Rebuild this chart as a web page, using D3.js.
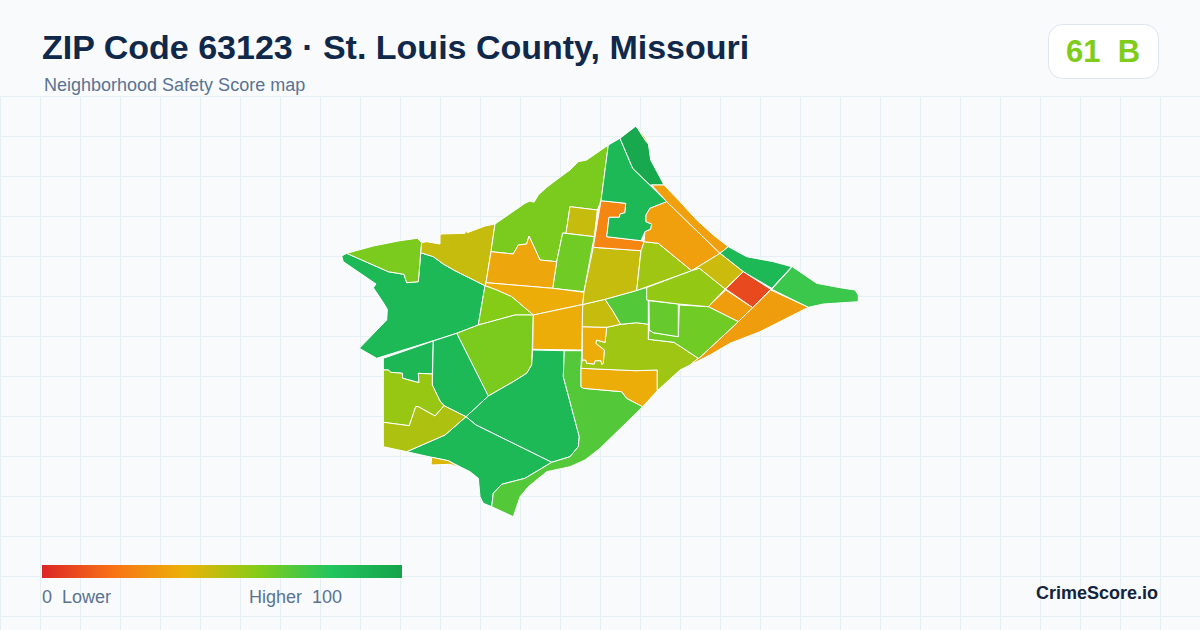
<!DOCTYPE html>
<html><head><meta charset="utf-8">
<script src="https://cdnjs.cloudflare.com/ajax/libs/d3/7.8.5/d3.min.js"></script>
<style>html,body{margin:0;padding:0;background:#f8fafc}svg{display:block}text{font-family:"Liberation Sans",Arial,sans-serif;white-space:pre}</style>
</head><body><svg id="c" width="1200" height="630"></svg>
<script>
const title="ZIP Code 63123 · St. Louis County, Missouri";
const subtitle="Neighborhood Safety Score map";
const overallScore=61, overallGrade="B";
const brand="CrimeScore.io";
const legendLow="0  Lower", legendHigh="Higher  100";
const colorStops=[0,20,40,60,80,100];
const colorValues=["#dc2626","#f97316","#eab308","#84cc16","#22c55e","#16a34a"];
// neighbourhood scores and outlines (map units)
const regionScores=[87,62,47,62,47,64,36,38,60,62,87,87,70,38,55,38,47,70,47,55,26,87,34,97,41,34,87,46,9,75,33,33,64,66,57,88,87,56,52,43,38];
const regionRings=[
[[341.7,256],[346.7,253.3],[388.3,271.7],[404,274.3],[406.7,282.7],[418.3,281.7],[420.7,252.7],[433.3,256.7],[443.3,264],[455,270.7],[468.3,277.3],[485,285.7],[478.3,325],[456.7,333.3],[433.3,340.7],[376.7,358.3],[359.3,348.3],[386.7,320],[387.3,309.3],[382.7,301.7],[373.3,287.7],[376,284],[343.3,261.7]],
[[346.7,253.3],[373.3,246],[400,240.7],[417.3,238.3],[421.7,242.7],[420.7,252.7],[418.3,281.7],[406.7,282.7],[404,274.3],[388.3,271.7]],
[[421.7,242.7],[426.7,241.7],[440,244],[440,235],[441.7,234],[465,233.3],[466,229.3],[467.3,232.7],[485,226],[495,224],[491,251.7],[486,282.7],[485,285.7],[468.3,277.3],[455,270.7],[443.3,264],[433.3,256.7],[420.7,252.7]],
[[495,224],[503.3,218.3],[525,203.3],[530,201],[534,202.3],[538.3,195],[546.7,187.3],[561.7,176],[570,170],[578.3,161.7],[586.7,160],[608.3,145],[601,200.7],[597.3,210],[570,206.7],[566,233.3],[562.7,233],[556.7,261.7],[540,260],[529,236],[526.7,244],[518.3,245],[513.3,254],[491,251.7]],
[[570,206.7],[597.3,210],[594.3,236.7],[566,233.3]],
[[562.7,233],[594.3,236.7],[591.7,250],[584,291.7],[552.7,288.3],[556.7,261.7]],
[[491,251.7],[513.3,254],[518.3,245],[526.7,244],[529,236],[540,260],[556.7,261.7],[552.7,288.3],[486,282.7]],
[[486,282.7],[552.7,288.3],[584,292.3],[582.7,304.5],[533.3,315],[511.7,296.7],[496.7,290],[485,285.7]],
[[485,285.7],[496.7,290],[511.7,296.7],[533.3,315],[515,315],[478.3,325]],
[[456.7,333.3],[478.3,325],[515,315],[533.3,315],[531.7,365],[526.7,373.3],[513.3,381.7],[488.3,396]],
[[532.7,350],[564.3,350.7],[563.3,376.7],[579.3,436.7],[578.3,446.7],[570,456.7],[551.7,462.3],[476,425],[466,416.7],[488.3,396],[513.3,381.7],[526.7,373.3],[531.7,365]],
[[466,416.7],[476,425],[551.7,462.3],[541.7,468.3],[525,478.3],[501.7,484.3],[493.3,493.3],[491.7,506.7],[483.3,503.3],[480,496.7],[478.3,478.3],[470,471.7],[460,466.7],[448.3,460.7],[431.7,457.3],[406.7,451.7],[445,435]],
[[564.3,350.7],[581.7,350.7],[581,368.3],[581,386.7],[583.3,388.3],[621.7,391.7],[626.7,398.3],[642.7,406.7],[600,448.3],[585,460],[570,466.7],[546.7,471.7],[528.3,486.7],[520,496.7],[513.3,516.7],[491.7,506.7],[493.3,493.3],[501.7,484.3],[525,478.3],[541.7,468.3],[551.7,462.3],[570,456.7],[578.3,446.7],[579.3,436.7],[563.3,376.7]],
[[581,368.3],[636,370.7],[657.3,370],[657.3,390.7],[642.7,406.7],[626.7,398.3],[621.7,391.7],[583.3,388.3],[581,386.7]],
[[606.7,327.3],[620.7,324.3],[636.7,322.7],[648.3,324.3],[648.3,339.3],[674,342.3],[698.3,358.3],[690,365],[680,370],[657.3,390.7],[657.3,370],[636,370.7],[581,368.3],[582.3,360],[585.7,360],[586.7,363.3],[594.3,364],[595,360.7],[601,360.7],[601.7,364.3],[603.3,363.3],[604.3,350],[595.7,343.3],[596.7,340],[605,342.5]],
[[582.3,326.7],[606.7,327.3],[605,342.5],[596.7,340],[595.7,343.3],[604.3,350],[603.3,363.3],[601.7,364.3],[601,360.7],[595,360.7],[594.3,364],[586.7,363.3],[585.7,360],[582.3,360]],
[[582.7,304.5],[605,299.3],[612.7,310.7],[620.7,324.3],[606.7,327.3],[582.3,326.7]],
[[605,299.3],[646.7,287.5],[648.3,300],[648.3,324.3],[636.7,322.7],[620.7,324.3],[612.7,310.7]],
[[593.3,247.3],[641,250.7],[636.7,290.5],[605,299.3],[582.7,304.5],[584,291.7]],
[[644,241.7],[658.3,243.3],[691.7,270.7],[636.7,290.5],[641,250.7]],
[[601,200.7],[625.7,203.3],[625,212.7],[620,214],[619.3,217.3],[609,217.3],[606.7,236.7],[641,240.7],[644,241.7],[641,250.7],[593.3,247.3]],
[[608.3,145],[620,138.3],[632.7,168.3],[666.7,201.7],[662.7,203.3],[650,208.3],[646,215],[646,221.7],[651.7,224],[650.7,229.3],[645,231.7],[641,240.7],[606.7,236.7],[609,217.3],[619.3,217.3],[620,214],[625,212.7],[625.7,203.3],[601,200.7]],
[[662.7,203.3],[666.7,201.7],[720,253.3],[691.7,270.7],[658.3,243.3],[644,241.7],[645,231.7],[650.7,229.3],[651.7,224],[646,221.7],[646,215],[650,208.3]],
[[620,138.3],[636,126],[643.3,136.7],[648.3,143.3],[650.7,160],[664,185],[650,185],[632.7,168.3]],
[[636.5,126.5],[645,137],[648.5,144],[646,141.5]],
[[651.7,185],[664,185],[680,201.7],[696.7,220],[713.3,235],[728.3,246.7],[720,253.3],[666.7,201.7]],
[[728.3,246.7],[746.7,256.7],[773.3,261.7],[791.7,266.7],[771.7,288.3],[743.3,271.7],[720,253.3]],
[[720,253.3],[743.3,271.7],[725,289],[699.3,268.3],[691.7,270.7]],
[[743.3,271.7],[770.7,289.3],[752.7,307.7],[725.7,289]],
[[792.3,266.7],[816.7,283.3],[840,287.7],[855,290],[858.3,295],[858.3,301.7],[823.3,304],[808.3,307.3],[771.7,289.3]],
[[708.3,306.7],[725.7,290],[752.7,307.7],[738.3,321.7]],
[[770.7,290],[808.3,307.3],[760,331.7],[730,343.3],[710,355],[690,365],[698.3,358.3],[700,357.3],[738.3,321.7],[752.7,307.7]],
[[679.3,305],[708.3,306.7],[738.3,321.7],[700,357.3],[698.3,358.3],[674,342.3],[648.3,339.3],[649,330],[653.3,332.7],[678.3,336.7]],
[[649,300.7],[678.3,304],[678.3,336.7],[653.3,332.7],[649.3,330]],
[[646.7,287.5],[691.7,270.7],[699.3,268.3],[725,289],[708.3,306.7],[678.3,304],[646.7,300]],
[[383.3,358.3],[433.3,341],[432.3,374],[418.3,373.3],[419,382.7],[402.7,378.3],[402.3,373.3],[390.7,372.3],[388.3,370],[383.3,370]],
[[433.3,341],[456.7,333.3],[488.3,396],[466,416.7],[444,405.7],[440,401],[432.3,385]],
[[383.3,370],[388.3,370],[390.7,372.3],[402.3,373.3],[402.7,378.3],[419,382.7],[418.3,373.3],[432.3,374],[432.3,385],[440,401],[444,405.7],[435,416],[418.3,406.7],[415.7,406.7],[409.3,425.7],[383.3,422.3]],
[[383.3,422.3],[409.3,425.7],[415.7,406.7],[418.3,406.7],[435,416],[444,405.7],[466,416.7],[445,435],[406.7,451.7],[383.3,446.7]],
[[431.7,457.3],[448.3,460.7],[460.7,468.3],[450,464.3],[431,465]],
[[533.3,315],[582.7,304.5],[581.7,350],[532.7,349.3]]
];
const color=d3.scaleLinear().domain(colorStops).range(colorValues).interpolate(d3.interpolateRgb);
const svg=d3.select("#c");
const defs=svg.append("defs");
const pat=defs.append("pattern").attr("id","grid").attr("patternUnits","userSpaceOnUse").attr("width",40).attr("height",40).attr("x",0).attr("y",96);
pat.append("path").attr("d","M40 .5H.5V40").attr("fill","none").attr("stroke","#e6eff3").attr("stroke-width",1);
const grad=defs.append("linearGradient").attr("id","lg");
grad.selectAll("stop").data(colorStops).join("stop").attr("offset",d=>d+"%").attr("stop-color",d=>color(d));
svg.append("rect").attr("width",1200).attr("height",630).attr("fill","#f8fafc");
svg.append("rect").attr("y",96).attr("width",1200).attr("height",534).attr("fill","url(#grid)");
const projection=d3.geoIdentity();
const path=d3.geoPath(projection);
const features=regionRings.map((r,i)=>({type:"Feature",properties:{score:regionScores[i]},geometry:{type:"Polygon",coordinates:[r.concat([r[0]])]}}));
svg.append("g").selectAll("path").data(features).join("path").attr("d",path)
  .attr("fill",d=>color(d.properties.score)).attr("stroke","#fff").attr("stroke-width",1).attr("stroke-linejoin","round");
svg.append("text").attr("x",42).attr("y",59).attr("font-size",34).attr("font-weight",700).attr("fill","#10284a").text(title);
svg.append("text").attr("x",44).attr("y",91).attr("font-size",18).attr("fill","#5a7391").text(subtitle);
svg.append("rect").attr("x",1048.5).attr("y",24.5).attr("width",110).attr("height",54).attr("rx",14).attr("fill","#fff").attr("stroke","#dfe5ee");
svg.append("text").attr("x",1103).attr("y",62).attr("text-anchor","middle").attr("font-size",31).attr("font-weight",700).attr("fill",color(overallScore)).text(overallScore+"  "+overallGrade);
const lx=d3.scaleLinear().domain([0,100]).range([42,402]);
svg.append("rect").attr("x",lx(0)).attr("y",565).attr("width",lx(100)-lx(0)).attr("height",13).attr("fill","url(#lg)");
svg.append("text").attr("x",42).attr("y",603).attr("font-size",18).attr("fill","#5a7391").text(legendLow);
svg.append("text").attr("x",249).attr("y",603).attr("font-size",18).attr("fill","#5a7391").text(legendHigh);
svg.append("text").attr("x",1158).attr("y",599).attr("text-anchor","end").attr("font-size",18).attr("font-weight",700).attr("fill","#12233d").text(brand);
</script></body></html>
